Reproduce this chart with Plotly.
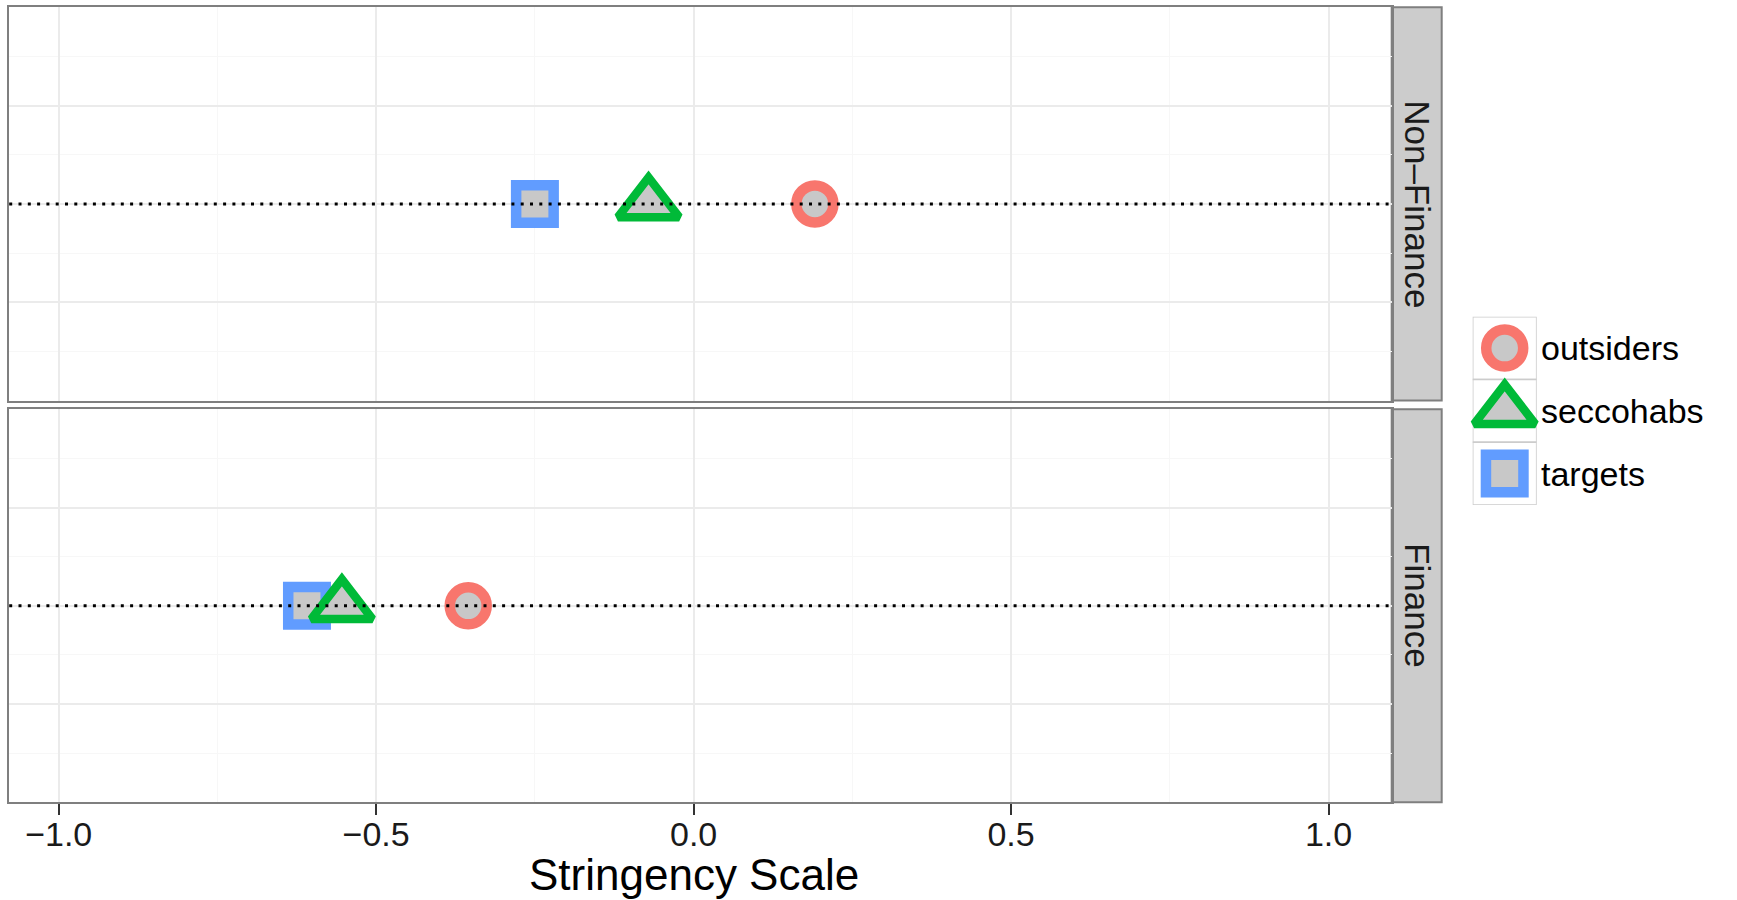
import plotly.graph_objects as go

W, H = 1737, 900

# ---------------- data ----------------
groups = ["outsiders", "seccohabs", "targets"]
facets = ["Non\u2013Finance", "Finance"]
outsiders = [0.191, -0.355]
seccohabs = [-0.071, -0.554]
targets = [-0.250, -0.609]
baseline = [0.0, 0.0]
x_ticks = [-1.0, -0.5, 0.0, 0.5, 1.0]
x_tick_labels = ["\u22121.0", "\u22120.5", "0.0", "0.5", "1.0"]
x_title = "Stringency Scale"

values = {"outsiders": outsiders, "seccohabs": seccohabs, "targets": targets}

# ---------------- style ----------------
FONT = "Liberation Sans, Arial, sans-serif"
colors = {"outsiders": "#F8766D", "seccohabs": "#00BA38", "targets": "#619CFF"}
symbols = {"outsiders": "circle", "seccohabs": "triangle-up", "targets": "square"}
sizes = {"outsiders": 37, "seccohabs": 53, "targets": 37.5}
lws = {"outsiders": 10.5, "seccohabs": 8.5, "targets": 10.5}
FILL = "#C8C8C8"
BORDER = "#7F7F7F"
GRID_MAJ = "#EBEBEB"
GRID_MIN = "#F7F7F7"
draw_order = ["targets", "seccohabs", "outsiders"]

# pixel layout
px_x = (9.2, 1391.7)
px_strip = (1391.7, 1441.7)
px_panels = [(7.3, 400.5), (409.3, 802.3)]  # top, bottom (y from top)
px_leg_x = (1472.7, 1536.7)
px_leg_y = (316.7, 505.0)


def fx(p):
    return p / W


def fy(p):
    return 1 - p / H


X_RANGE = [-1.078, 1.0995]
Y_RANGE = [-2, 2]

fig = go.Figure()

axis_names = [("x", "y"), ("x2", "y2")]
for fi, facet in enumerate(facets):
    xa, ya = axis_names[fi]
    for g in draw_order:
        fig.add_trace(go.Scatter(
            x=[values[g][fi]], y=[baseline[fi]],
            xaxis=xa, yaxis=ya, mode="markers", showlegend=False, name=g,
            cliponaxis=False,
            marker=dict(symbol=symbols[g], size=sizes[g], color=FILL,
                        line=dict(color=colors[g], width=lws[g])),
        ))

layout = dict(
    width=W, height=H, autosize=False,
    margin=dict(l=0, r=0, t=0, b=0, pad=0),
    paper_bgcolor="white", plot_bgcolor="white",
    showlegend=False,
    font=dict(family=FONT, color="#1A1A1A"),
)

for fi in range(2):
    xk = "xaxis" if fi == 0 else "xaxis2"
    yk = "yaxis" if fi == 0 else "yaxis2"
    ytop, ybot = px_panels[fi]
    bottom = fi == 1
    layout[xk] = dict(
        domain=[fx(px_x[0]), fx(px_x[1])],
        anchor="y" if fi == 0 else "y2",
        range=X_RANGE, tickmode="array", tickvals=x_ticks, ticktext=x_tick_labels,
        showticklabels=bottom, ticks="outside" if bottom else "",
        ticklen=10.5, tickwidth=2.2, tickcolor="#333333",
        tickfont=dict(size=34, color="#1A1A1A", family=FONT),
        ticklabelstandoff=-10,
        showgrid=True, gridcolor=GRID_MAJ, gridwidth=1.5,
        minor=dict(dtick=0.25, tick0=0, showgrid=True, gridcolor=GRID_MIN, gridwidth=1.2),
        zeroline=False, showline=True, mirror=True, linecolor=BORDER, linewidth=2,
        automargin=False, fixedrange=True,
    )
    layout[yk] = dict(
        domain=[fy(ybot), fy(ytop)],
        anchor="x" if fi == 0 else "x2",
        range=Y_RANGE, tickmode="array", tickvals=[-1, 0, 1],
        showticklabels=False, ticks="",
        showgrid=True, gridcolor=GRID_MAJ, gridwidth=1.5,
        minor=dict(dtick=0.5, tick0=0, showgrid=True, gridcolor=GRID_MIN, gridwidth=1.2),
        zeroline=False, showline=True, mirror=True, linecolor=BORDER, linewidth=2,
        automargin=False, fixedrange=True,
    )

# legend axes
layout["xaxis3"] = dict(domain=[fx(px_leg_x[0]), fx(px_leg_x[1])], anchor="y3",
                        range=[-0.5, 0.5], visible=False, fixedrange=True)
layout["yaxis3"] = dict(domain=[fy(px_leg_y[1]), fy(px_leg_y[0])], anchor="x3",
                        range=[len(groups) - 0.5, -0.5], visible=False, fixedrange=True)

fig.update_layout(**layout)

shapes = []
annotations = []

# dotted reference lines & strips
for fi, facet in enumerate(facets):
    ya = "y" if fi == 0 else "y2"
    xa = "x" if fi == 0 else "x2"
    shapes.append(dict(type="line", xref=f"{xa} domain", x0=0, x1=1, yref=ya,
                       y0=baseline[fi], y1=baseline[fi],
                       line=dict(color="black", width=3, dash="3px,6.3px"), layer="above"))
    ytop, ybot = px_panels[fi]
    shapes.append(dict(type="rect", xref="paper", yref="paper",
                       x0=fx(px_strip[0]), x1=fx(px_strip[1]), y0=fy(ybot), y1=fy(ytop),
                       fillcolor="#CCCCCC", line=dict(color=BORDER, width=2), layer="below"))
    annotations.append(dict(text=facet, xref="paper", yref="paper",
                            x=fx((px_strip[0] + px_strip[1]) / 2), y=fy((ytop + ybot) / 2),
                            textangle=90, showarrow=False, xanchor="center", yanchor="middle",
                            font=dict(size=35, color="#1A1A1A", family=FONT)))

# axis title
annotations.append(dict(text=x_title, xref="paper", yref="paper",
                        x=fx(694), y=fy(874), showarrow=False,
                        xanchor="center", yanchor="middle",
                        font=dict(size=44, color="black", family=FONT)))

# custom legend
for i, g in enumerate(groups):
    shapes.append(dict(type="rect", xref="x3", yref="y3", x0=-0.5, x1=0.5,
                       y0=i - 0.5, y1=i + 0.5, fillcolor="white",
                       line=dict(color="#CCCCCC", width=1.6), layer="below"))
    fig.add_trace(go.Scatter(
        x=[0], y=[i], xaxis="x3", yaxis="y3", mode="markers", showlegend=False,
        cliponaxis=False, hoverinfo="skip",
        marker=dict(symbol=symbols[g], size=sizes[g], color=FILL,
                    line=dict(color=colors[g], width=lws[g])),
    ))
    annotations.append(dict(text=g, xref="paper", yref="y3", x=fx(1539), y=i,
                            xanchor="left", yanchor="middle", showarrow=False,
                            font=dict(size=34, color="black", family=FONT)))

fig.update_layout(shapes=shapes, annotations=annotations)

fig.write_html(
    "out.html",
    config={"displayModeBar": False},
    post_script="document.body.style.margin='0px';document.body.style.overflow='hidden';",
)
